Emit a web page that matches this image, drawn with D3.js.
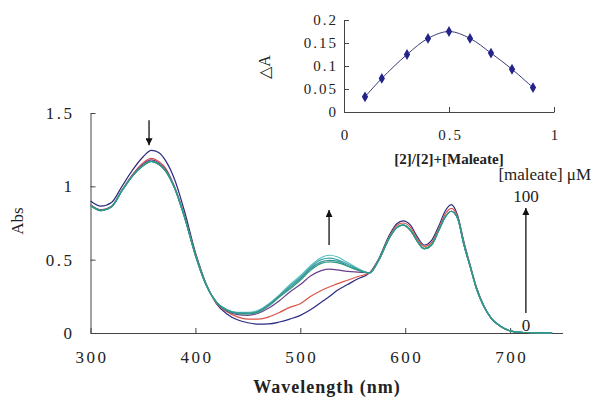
<!DOCTYPE html>
<html>
<head>
<meta charset="utf-8">
<script src="https://cdn.jsdelivr.net/npm/d3@7"></script>
<style>
  body { margin: 0; background: #fff; }
  svg { display: block; font-family: "Liberation Serif", "Times New Roman", serif; }
  .axis path, .axis line { stroke: #444; }
  .axis text { fill: #222; }
</style>
</head>
<body>
<div id="chart"></div>
<script>
// wavelength grid (nm)
const wavelengths = [300, 310, 320, 330, 340, 350, 358, 365, 372, 380, 390, 400, 410, 420, 430,
  440, 450, 460, 470, 480, 490, 500, 510, 520, 528, 535, 545, 555, 566,
  575, 585, 592, 598, 605, 612, 618, 625, 632, 638, 644, 650, 656, 662, 668, 675, 682, 690, 700, 710, 720, 740];

// shared parts of the spectra
const head = [0.87, 0.835, 0.86, 0.97, 1.07, 1.14, 1.17, 1.15, 1.10, 0.99, 0.78, 0.53, 0.33, 0.21];
const tail = [0.5, 0.65, 0.72, 0.735, 0.70, 0.62, 0.575, 0.60, 0.70, 0.79, 0.83, 0.78, 0.60, 0.45, 0.30, 0.18, 0.10, 0.05, 0.015, 0.005, 0.003, 0.0];

// absorbance, 0 -> 100 uM maleate
const abs0 = [0.90, 0.865, 0.89, 1.0, 1.11, 1.20, 1.245, 1.23, 1.17, 1.05, 0.82, 0.55, 0.34, 0.20,
  0.13, 0.09, 0.07, 0.06, 0.062, 0.075, 0.095, 0.12, 0.16, 0.21, 0.25, 0.29, 0.33, 0.37, 0.41,
  0.51, 0.67, 0.745, 0.765, 0.735, 0.65, 0.60, 0.63, 0.73, 0.83, 0.875, 0.80, 0.62, 0.46, 0.31, 0.185, 0.10, 0.05, 0.015, 0.005, 0.003, 0.0];
const abs1 = [0.875, 0.84, 0.865, 0.975, 1.08, 1.16, 1.19, 1.17, 1.12, 1.0, 0.79, 0.54, 0.335, 0.205,
  0.145, 0.11, 0.095, 0.095, 0.11, 0.14, 0.175, 0.20, 0.25, 0.29, 0.315, 0.335, 0.36, 0.385, 0.41,
  0.505, 0.66, 0.735, 0.75, 0.72, 0.635, 0.59, 0.615, 0.715, 0.81, 0.85, 0.79, 0.61, 0.455, 0.305, 0.18, 0.10, 0.05, 0.015, 0.005, 0.003, 0.0];
const abs2 = [0.872, 0.838, 0.862, 0.972, 1.075, 1.15, 1.18, 1.16, 1.11, 0.995, 0.785, 0.535, 0.332, 0.21,
  0.15, 0.125, 0.12, 0.135, 0.17, 0.22, 0.28, 0.33, 0.39, 0.425, 0.435, 0.43, 0.42, 0.415, 0.41].concat(tail);
const abs3 = head.concat([0.16, 0.14, 0.14, 0.155, 0.20, 0.26, 0.33, 0.39, 0.46, 0.515, 0.53, 0.52, 0.48, 0.44, 0.41], tail);
const abs4 = head.concat([0.158, 0.138, 0.137, 0.15, 0.195, 0.255, 0.32, 0.38, 0.45, 0.50, 0.51, 0.50, 0.47, 0.435, 0.41], tail);
const abs5 = head.concat([0.155, 0.135, 0.133, 0.146, 0.19, 0.25, 0.31, 0.37, 0.44, 0.485, 0.495, 0.49, 0.46, 0.43, 0.41], tail);
const abs6 = head.concat([0.153, 0.132, 0.13, 0.142, 0.185, 0.245, 0.30, 0.36, 0.43, 0.475, 0.485, 0.48, 0.455, 0.428, 0.41], tail);

const spectra = [abs0, abs1, abs2, abs3, abs4, abs5, abs6];
const spectraColors = ["#2b2b80", "#d9534a", "#6b3d8f", "#5cc2c2", "#3aa6a6", "#3b8f9e", "#2e9c7e"];

const xTicks = [300, 400, 500, 600, 700];
const yTicks = [0, 0.5, 1, 1.5];

// Job plot inset
const jobX = [0.1, 0.18, 0.3, 0.4, 0.5, 0.6, 0.7, 0.8, 0.9];
const jobY = [0.033, 0.073, 0.125, 0.16, 0.175, 0.16, 0.128, 0.093, 0.053];
const jobXTicks = [0, 0.5, 1];
const jobYTicks = [0, 0.05, 0.1, 0.15, 0.2];

const W = 591, H = 397;
const svg = d3.select("#chart").append("svg").attr("width", W).attr("height", H);

svg.append("defs").append("marker")
  .attr("id", "head")
  .attr("viewBox", "0 0 10 10")
  .attr("refX", 10).attr("refY", 5)
  .attr("markerWidth", 7).attr("markerHeight", 7)
  .attr("markerUnits", "userSpaceOnUse")
  .attr("orient", "auto")
  .append("path").attr("d", "M0,0 L10,5 L0,10 Z").attr("fill", "#111");

// wide serif look of the original figure
const tickText = (size, ls) => g => g.selectAll("text")
  .attr("font-size", size)
  .attr("font-family", "Liberation Serif")
  .attr("letter-spacing", ls);

// main chart
const x = d3.scaleLinear().domain([300, 750]).range([90.5, 562.6]);
const y = d3.scaleLinear().domain([0, 1.5]).range([333, 113]);

svg.append("g").attr("class", "axis")
  .attr("transform", `translate(0,${y(0)})`)
  .call(d3.axisBottom(x).tickValues(xTicks).tickSizeInner(-5).tickSizeOuter(0).tickPadding(18))
  .call(tickText(17, 2.5))
  .call(g => g.selectAll("text").attr("dx", 1));

svg.append("g").attr("class", "axis")
  .attr("transform", `translate(${x(300)},0)`)
  .call(d3.axisLeft(y).tickValues(yTicks).tickFormat(d3.format("")).tickSizeInner(-5).tickSizeOuter(0).tickPadding(16))
  .call(tickText(17, 2.5));

const line = d3.line()
  .x((d, i) => x(wavelengths[i]))
  .y(d => y(d))
  .curve(d3.curveMonotoneX);

svg.append("g")
  .selectAll("path")
  .data(spectra)
  .join("path")
  .attr("fill", "none")
  .attr("stroke", (d, i) => spectraColors[i])
  .attr("stroke-width", 1.2)
  .attr("d", line);

svg.append("text")
  .attr("transform", `translate(23,${y(0.75) - 2}) rotate(-90)`)
  .attr("text-anchor", "middle")
  .attr("font-size", 17)
  .attr("fill", "#222")
  .text("Abs");

svg.append("text")
  .attr("x", 327).attr("y", 393)
  .attr("text-anchor", "middle")
  .attr("font-size", 18)
  .attr("font-weight", "bold")
  .attr("letter-spacing", 1)
  .attr("fill", "#222")
  .text("Wavelength (nm)");

// arrows
const arrows = [
  { w: 355.8, from: 1.45, to: 1.28 },
  { w: 527.4, from: 0.60, to: 0.838 },
  { w: 715, from: 0.136, to: 0.852 }
];
svg.append("g")
  .selectAll("line")
  .data(arrows)
  .join("line")
  .attr("x1", d => x(d.w)).attr("x2", d => x(d.w))
  .attr("y1", d => y(d.from)).attr("y2", d => y(d.to))
  .attr("stroke", "#111").attr("stroke-width", 1.3)
  .attr("marker-end", "url(#head)");

const notes = [
  { w: 715, v: 0.012, t: "0" },
  { w: 715, v: 0.89, t: "100" },
  { w: 733, v: 1.045, t: "[maleate] \u03bcM" }
];
svg.append("g")
  .selectAll("text")
  .data(notes)
  .join("text")
  .attr("x", d => x(d.w)).attr("y", d => y(d.v))
  .attr("text-anchor", "middle")
  .attr("font-size", 17)
  .attr("fill", "#222")
  .text(d => d.t);

// inset
const ix = d3.scaleLinear().domain([0, 1]).range([344, 554]);
const iy = d3.scaleLinear().domain([0, 0.2]).range([112, 20]);

svg.append("g").attr("class", "axis")
  .attr("transform", `translate(0,${iy(0)})`)
  .call(d3.axisBottom(ix).tickValues(jobXTicks).tickFormat(d3.format("")).tickSizeInner(-5).tickSizeOuter(0).tickPadding(17))
  .call(tickText(15, 2))
  .call(g => g.selectAll("text").attr("dx", 1));

svg.append("g").attr("class", "axis")
  .attr("transform", `translate(${ix(0)},0)`)
  .call(d3.axisLeft(iy).tickValues(jobYTicks).tickFormat(d3.format("")).tickSizeInner(-5).tickSizeOuter(0).tickPadding(6))
  .call(tickText(15, 2));

const jobLine = d3.line()
  .x((d, i) => ix(jobX[i]))
  .y(d => iy(d))
  .curve(d3.curveCatmullRom);

svg.append("path")
  .datum(jobY)
  .attr("fill", "none")
  .attr("stroke", "#3a3a7a")
  .attr("stroke-width", 1)
  .attr("d", jobLine);

svg.append("g")
  .selectAll("path")
  .data(jobY)
  .join("path")
  .attr("transform", (d, i) => `translate(${ix(jobX[i])},${iy(d)})`)
  .attr("d", d3.symbol(d3.symbolDiamond, 34))
  .attr("fill", "#23238a");

svg.append("text")
  .attr("x", 449).attr("y", 164)
  .attr("text-anchor", "middle")
  .attr("font-size", 15)
  .attr("font-weight", "bold")
  .attr("fill", "#222")
  .text("[2]/[2]+[Maleate]");

svg.append("text")
  .attr("transform", `translate(270,${iy(0.1) + 1}) rotate(-90)`)
  .attr("text-anchor", "middle")
  .attr("font-size", 16)
  .attr("fill", "#222")
  .text("\u25b3A");
</script>
</body>
</html>
